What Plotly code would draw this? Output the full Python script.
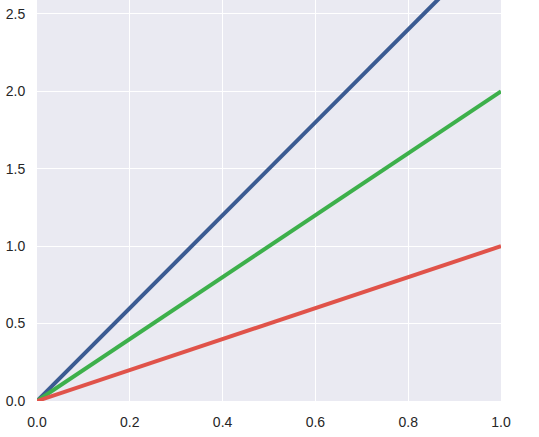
import plotly.graph_objects as go

x_vals = [0.0, 1.0]
red_vals = [0.0, 1.0]
green_vals = [0.0, 2.0]
blue_vals = [0.0, 3.0]
x_ticks = [0.0, 0.2, 0.4, 0.6, 0.8, 1.0]
y_ticks = [0.0, 0.5, 1.0, 1.5, 2.0, 2.5]

fig = go.Figure()
fig.add_trace(go.Scatter(x=x_vals, y=blue_vals, mode="lines", line=dict(color="#3b5b92", width=4)))
fig.add_trace(go.Scatter(x=x_vals, y=green_vals, mode="lines", line=dict(color="#3db04b", width=4)))
fig.add_trace(go.Scatter(x=x_vals, y=red_vals, mode="lines", line=dict(color="#e0534a", width=4)))

fig.update_layout(
    width=539, height=437,
    margin=dict(l=37, r=38, t=0, b=36, autoexpand=False),
    plot_bgcolor="#EAEAF2", paper_bgcolor="white",
    showlegend=False,
    font=dict(family="Liberation Sans, Arial", size=14, color="#262626"),
)
fig.update_xaxes(range=[0, 1], tickvals=x_ticks, tickformat=".1f", showgrid=True, gridcolor="white",
                 gridwidth=1.2, zeroline=False, showline=False, ticks="outside", ticklen=8, tickcolor="rgba(0,0,0,0)")
fig.update_yaxes(range=[0, 2.59], tickvals=y_ticks, tickformat=".1f", showgrid=True, gridcolor="white",
                 gridwidth=1.2, zeroline=False, showline=False, ticks="outside", ticklen=8, tickcolor="rgba(0,0,0,0)")

fig.write_html("out.html", config={"displayModeBar": False},
               post_script="document.body.style.margin='0';document.body.style.padding='0';")
